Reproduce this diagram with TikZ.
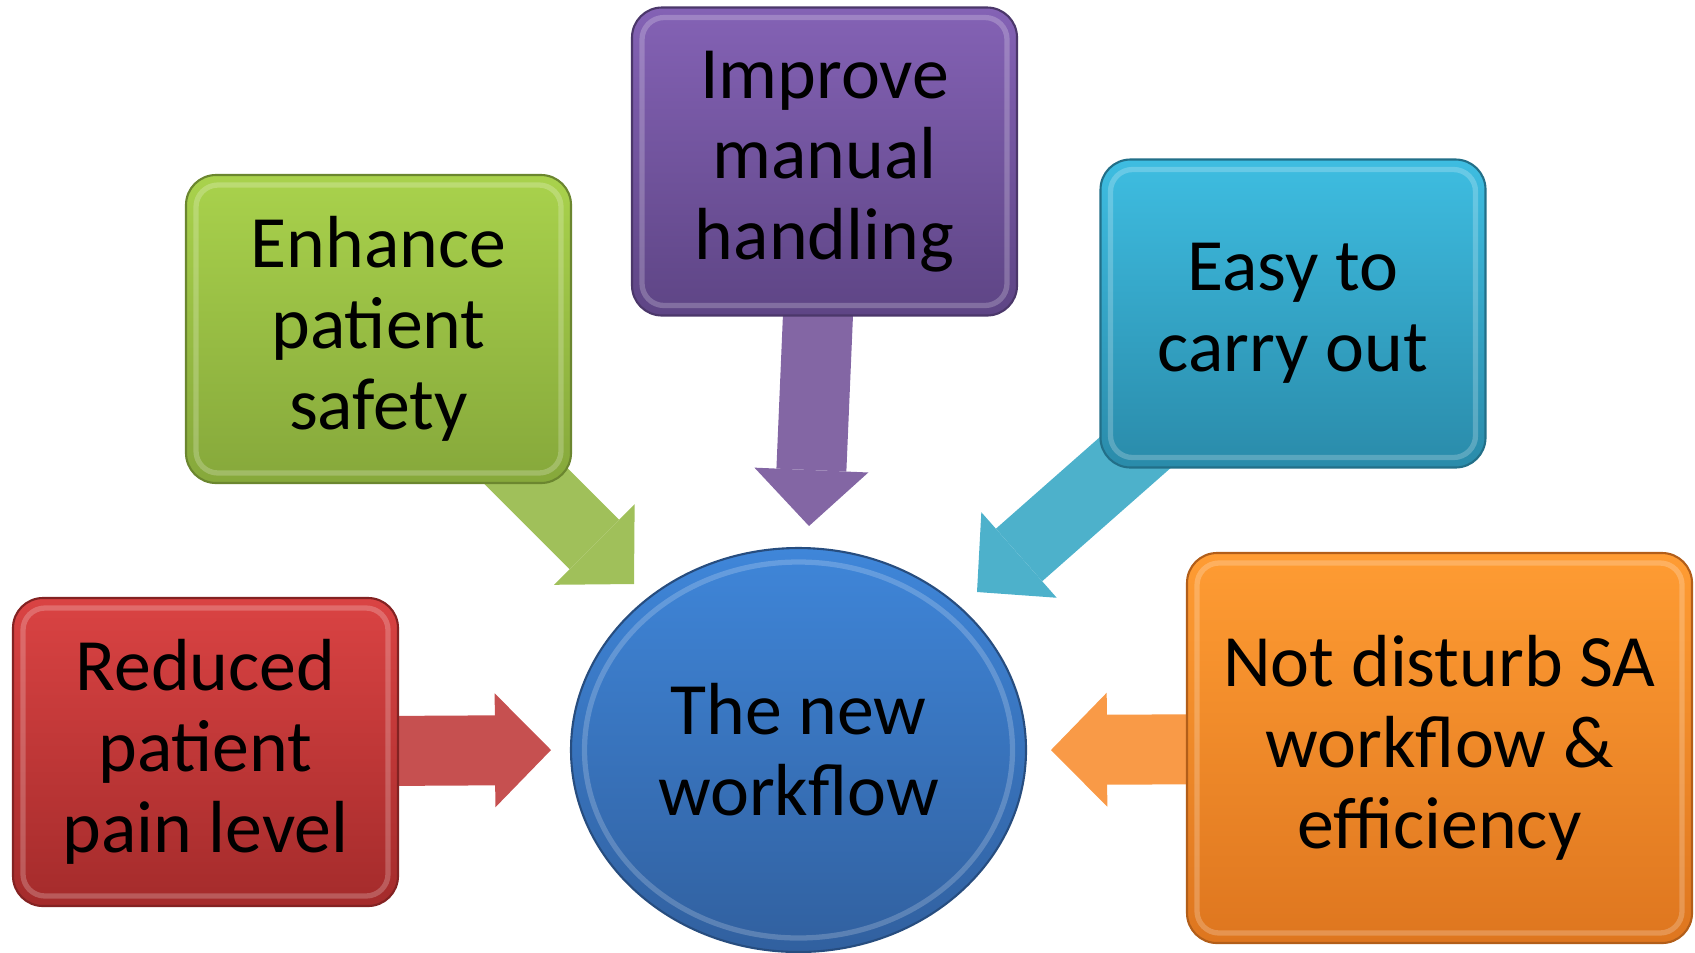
\documentclass[tikz,border=0pt]{standalone}
\usepackage{fontspec}
\setmainfont{Carlito}
\usetikzlibrary{shapes.geometric,arrows.meta,backgrounds}

\definecolor{redTop}{HTML}{DA4343}
\definecolor{redBot}{HTML}{A42B2B}
\definecolor{redArrow}{HTML}{C65050}
\definecolor{greenTop}{HTML}{A9D24C}
\definecolor{greenBot}{HTML}{86A83B}
\definecolor{greenArrow}{HTML}{A0C05A}
\definecolor{purpleTop}{HTML}{8462B5}
\definecolor{purpleBot}{HTML}{5E4585}
\definecolor{purpleArrow}{HTML}{8366A4}
\definecolor{cyanTop}{HTML}{3EBDE1}
\definecolor{cyanBot}{HTML}{2A8BAA}
\definecolor{cyanArrow}{HTML}{4DB1CB}
\definecolor{orangeTop}{HTML}{FF9C33}
\definecolor{orangeBot}{HTML}{DE761F}
\definecolor{orangeArrow}{HTML}{F99A47}
\definecolor{hubTop}{HTML}{3F86D9}
\definecolor{hubBot}{HTML}{31609F}

\begin{document}
\begin{tikzpicture}[
 box/.style 2 args={rectangle, rounded corners=.3cm, minimum width=3.85cm, minimum height=3.08cm,
  inner sep=0pt, align=center, top color=#1, bottom color=#2, draw=#2!80!black, line width=.6pt,
  font=\fontsize{21pt}{23pt}\selectfont,
  path picture={\draw[white, opacity=.22, line width=1.5pt, rounded corners=.22cm]
   ([shift={(.1,-.1)}]path picture bounding box.north west) rectangle
   ([shift={(-.1,.1)}]path picture bounding box.south east);}},
 hub/.style={ellipse, minimum width=4.55cm, minimum height=4.04cm, inner sep=0pt, align=center,
  top color=hubTop, bottom color=hubBot, draw=hubBot!80!black, line width=.6pt,
  font=\fontsize{21pt}{23pt}\selectfont,
  path picture={\draw[white, opacity=.2, line width=1.5pt]
   (path picture bounding box.center) ellipse[x radius=2.14cm, y radius=1.88cm];}},
 blockarrow/.style={draw=#1, line width=.7cm,
  -{Triangle[length=.56cm, width=1.14cm, line width=0pt]}}
]
%\draw[help lines] (0,-9.52) grid (16.95,0);
\useasboundingbox (0,0) rectangle (16.95,-9.52);

\node[hub] (workflow) at (7.985,-7.50) {The new\\workflow};

\node[box={redTop}{redBot}] (pain) at (2.055,-7.52) {Reduced\\patient\\pain level};
\node[box={greenTop}{greenBot}] (safety) at (3.785,-3.29) {Enhance\\patient\\safety};
\node[box={purpleTop}{purpleBot}] (handling) at (8.245,-1.615) {Improve\\manual\\handling};
\node[box={cyanTop}{cyanBot}] (easy) at (12.93,-3.135) {Easy to\\carry out};
\node[box={orangeTop}{orangeBot}, minimum width=5.05cm, minimum height=3.9cm]
 (disturb) at (14.395,-7.48) {Not disturb SA\\workflow \&\\efficiency};

\coordinate (painTip) at (5.51,-7.50);
\coordinate (safetyTip) at (6.34,-5.84);
\coordinate (handlingTip) at (8.09,-5.26);
\coordinate (easyTip) at (9.77,-5.92);
\coordinate (disturbTip) at (10.51,-7.50);

\begin{scope}[on background layer]
 \draw[blockarrow=redArrow] (pain.center) -- (painTip);
 \draw[blockarrow=greenArrow] (safety.center) -- (safetyTip);
 \draw[blockarrow=purpleArrow] (handling.center) -- (handlingTip);
 \draw[blockarrow=cyanArrow] (easy.center) -- (easyTip);
 \draw[blockarrow=orangeArrow] (disturb.center) -- (disturbTip);
\end{scope}

\end{tikzpicture}
\end{document}
